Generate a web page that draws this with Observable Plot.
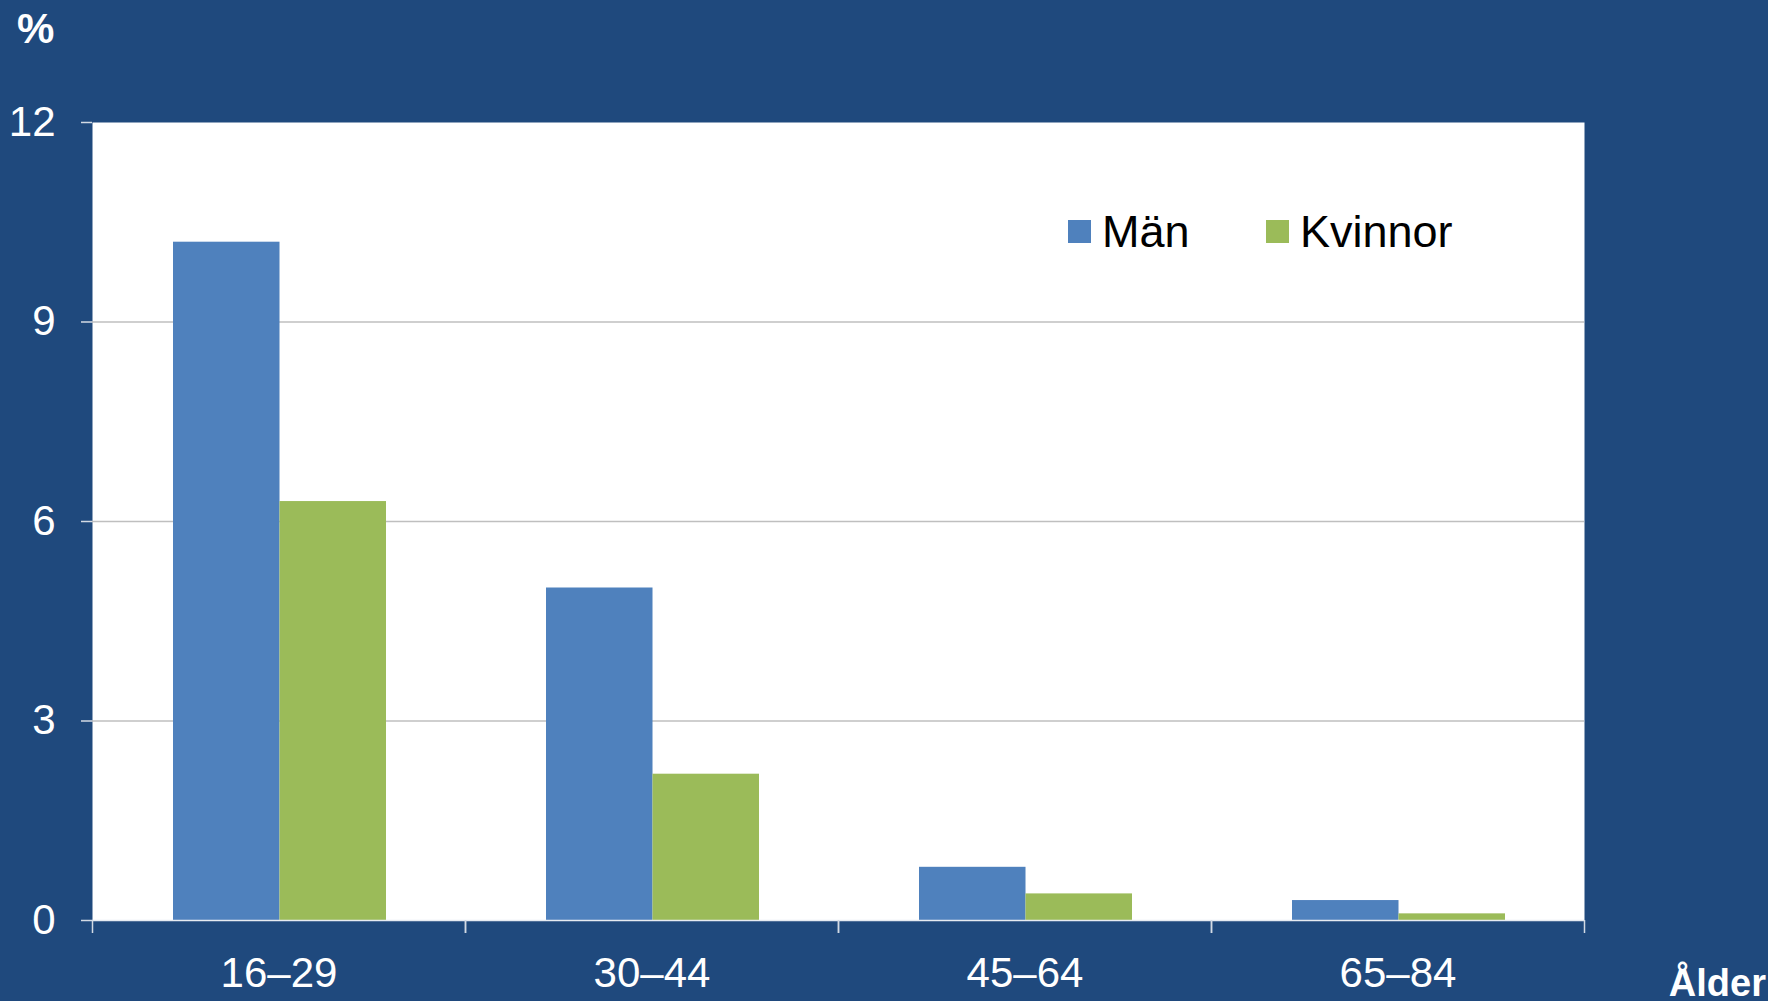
<!DOCTYPE html>
<html>
<head>
<meta charset="utf-8">
<script src="https://cdn.jsdelivr.net/npm/d3@7"></script>
<script src="https://cdn.jsdelivr.net/npm/@observablehq/plot@0.6"></script>
<style>
  html, body { margin: 0; padding: 0; background: #1F497D; }
  #chart { width: 1768px; height: 1001px; }
</style>
</head>
<body>
<div id="chart"></div>
<script>
// ---- data ----
const ages = ["16–29", "30–44", "45–64", "65–84"];
const sexes = ["Män", "Kvinnor"];
const man = [10.2, 5.0, 0.8, 0.3];
const kvinnor = [6.3, 2.2, 0.4, 0.1];
const yTicks = [0, 3, 6, 9, 12];
const colors = ["#4F81BD", "#9BBB59"];
const yUnit = "%";
const xUnit = "Ålder";

const data = ages.flatMap((a, i) => [
  {age: a, sex: sexes[0], value: man[i]},
  {age: a, sex: sexes[1], value: kvinnor[i]}
]);

// ---- layout ----
const W = 1768, H = 1001;
const mL = 92, mR = 184, mT = 122, mB = 81;
const pad = 0.429;
const step = (W - mL - mR) / ages.length;
const bw = step * (1 - pad);
const font = "'Liberation Sans', Arial, sans-serif";
const tickStroke = "#d3dae4";

const chart = Plot.plot({
  width: W, height: H,
  marginLeft: mL, marginRight: mR, marginTop: mT, marginBottom: mB,
  style: {background: "#1F497D", color: "white", fontFamily: font, fontSize: "42px", overflow: "visible"},
  x: {type: "band", domain: ages, paddingInner: pad, paddingOuter: pad / 2, axis: null, label: null},
  y: {domain: [0, 12], axis: null, label: null},
  color: {domain: sexes, range: colors},
  marks: [
    Plot.frame({fill: "white", stroke: null}),
    Plot.gridY(yTicks.filter(t => t > 0 && t < 12), {stroke: "#bfbfbf", strokeOpacity: 1, strokeWidth: 1.3}),
    Plot.barY(data.filter(d => d.sex === sexes[0]), {x: "age", y: "value", fill: "sex", insetRight: bw / 2, dx: 1}),
    Plot.barY(data.filter(d => d.sex === sexes[1]), {x: "age", y: "value", fill: "sex", insetLeft: bw / 2, dx: 1}),
    Plot.ruleY([0], {stroke: "#e6ebf2", strokeWidth: 1.5}),
    Plot.axisY(yTicks, {tickSize: 11, tickPadding: 26, fontSize: 42, stroke: tickStroke, strokeWidth: 1.5, tickFormat: d => String(d), label: null}),
    Plot.axisX({tickSize: 0, tickPadding: 37, fontSize: 42, label: null}),
    Plot.axisX({tickSize: 13, tickFormat: () => "", dx: -step / 2, stroke: tickStroke, strokeWidth: 1.5, label: null}),
    Plot.axisX({tickSize: 13, tickFormat: () => "", dx: step / 2, stroke: tickStroke, strokeWidth: 1.5, label: null})
  ]
});

document.getElementById("chart").appendChild(chart);

// ---- unit labels and legend ----
const svg = d3.select(chart);
svg.append("text").attr("x", 17).attr("y", 43).attr("text-anchor", "start")
  .attr("fill", "white").attr("font-family", font).attr("font-weight", "bold").attr("font-size", 42)
  .text(yUnit);
svg.append("text").attr("x", 1766).attr("y", 996).attr("text-anchor", "end")
  .attr("fill", "white").attr("font-family", font).attr("font-weight", "bold").attr("font-size", 38)
  .text(xUnit);

const colorScale = chart.scale("color");
const legendX = [1068, 1266];
sexes.forEach((s, i) => {
  svg.append("rect").attr("x", legendX[i]).attr("y", 220).attr("width", 23).attr("height", 23)
    .attr("fill", colorScale.range[colorScale.domain.indexOf(s)]);
  svg.append("text").attr("x", legendX[i] + 34).attr("y", 247).attr("text-anchor", "start")
    .attr("fill", "black").attr("font-family", font).attr("font-size", 45)
    .text(s);
});
</script>
</body>
</html>
